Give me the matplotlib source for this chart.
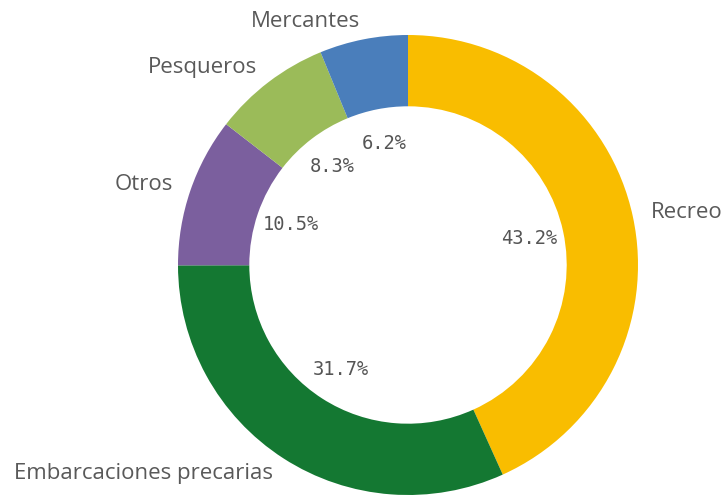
import matplotlib.pyplot as plt

categories = ["Recreo", "Embarcaciones precarias", "Otros", "Pesqueros", "Mercantes"]
shares = [43.2, 31.7, 10.5, 8.3, 6.2]
colors = ["#F9BD00", "#147832", "#7B5F9E", "#9BBB59", "#4A7EBB"]

fig = plt.figure(figsize=(7.28, 4.95), dpi=100)
ax = fig.add_axes([0, 0, 1, 1])

wedges, texts, autotexts = ax.pie(
    shares,
    labels=categories,
    colors=colors,
    startangle=90,
    counterclock=False,
    radius=1.0,
    labeldistance=1.08,
    pctdistance=0.54,
    autopct="%1.1f%%",
    wedgeprops=dict(width=0.31, linewidth=0),
    textprops=dict(color="#595959"),
)

for t in texts:
    t.set_fontfamily("Open Sans")
    t.set_fontsize(16)
for t in autotexts:
    t.set_fontfamily("DejaVu Sans Mono")
    t.set_fontsize(13.5)
    t.set_color("#555555")

# place the centre at (408, 265) px with radius 230 px
ax.set_xlim(-408 / 230, (728 - 408) / 230)
ax.set_ylim(-230 / 230, 265 / 230)
ax.set_aspect("equal")
ax.axis("off")

fig.savefig("out.png", dpi=100)
